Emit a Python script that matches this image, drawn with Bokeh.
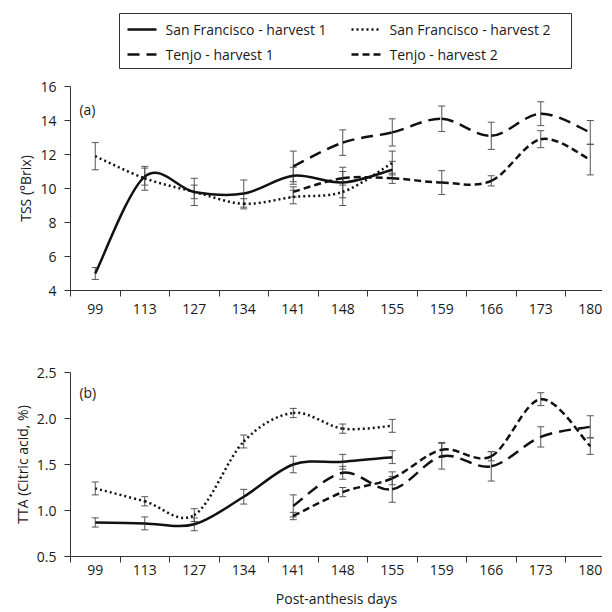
from bokeh.plotting import figure
from bokeh.models import (ColumnDataSource, Whisker, TeeHead, FixedTicker, Range1d,
                          PrintfTickFormatter)
from bokeh.core.properties import value
from bokeh.layouts import column
from bokeh.embed import file_html
from bokeh.resources import INLINE

# ---------------- data ----------------
days = ["99", "113", "127", "134", "141", "148", "155", "159", "166", "173", "180"]
sf_idx = [0, 1, 2, 3, 4, 5, 6]          # San Francisco sampling days (positions in days)
tj_idx = [4, 5, 6, 7, 8, 9, 10]         # Tenjo sampling days

# TSS (°Brix)
tss_sf1 = [5.0, 10.7, 9.8, 9.7, 10.75, 10.35, 11.1]
tss_sf1_err = [0.35, 0.5, 0.8, 0.8, 0.5, 0.9, 0.5]
tss_sf2 = [11.9, 10.6, 9.8, 9.1, 9.5, 9.8, 11.5]
tss_sf2_err = [0.8, 0.7, 0.4, 0.3, 0.4, 0.8, 0.7]
tss_tj1 = [11.3, 12.7, 13.3, 14.1, 13.1, 14.4, 13.3]
tss_tj1_err = [0.9, 0.75, 0.8, 0.75, 0.8, 0.7, 0.7]
tss_tj2 = [9.8, 10.6, 10.6, 10.35, 10.45, 12.9, 11.7]
tss_tj2_err = [0.3, 0.4, 0.3, 0.7, 0.3, 0.5, 0.9]

# TTA (Citric acid, %)
tta_sf1 = [0.87, 0.86, 0.85, 1.15, 1.5, 1.53, 1.58]
tta_sf1_err = [0.05, 0.07, 0.07, 0.08, 0.09, 0.08, 0.07]
tta_sf2 = [1.24, 1.1, 0.95, 1.75, 2.06, 1.89, 1.92]
tta_sf2_err = [0.07, 0.05, 0.07, 0.07, 0.05, 0.05, 0.07]
tta_tj1 = [1.05, 1.41, 1.23, 1.59, 1.48, 1.8, 1.91]
tta_tj1_err = [0.12, 0.07, 0.14, 0.14, 0.16, 0.11, 0.12]
tta_tj2 = [0.94, 1.2, 1.35, 1.66, 1.59, 2.21, 1.7]
tta_tj2_err = [0.04, 0.05, 0.07, 0.08, 0.05, 0.07, 0.09]

series_names = ["San Francisco - harvest 1", "San Francisco - harvest 2",
                "Tenjo - harvest 1", "Tenjo - harvest 2"]

# ---------------- style ----------------
FONT = "Open Sans"
LINE_C = "#111111"
ERR_C = "#555555"
AXIS_C = "#333333"
TEXT_C = "#1a1a1a"
styles = {
    series_names[0]: dict(line_dash="solid"),
    series_names[1]: dict(line_dash="2 3"),
    series_names[2]: dict(line_dash="12 7"),
    series_names[3]: dict(line_dash="7 4"),
}
LW = 2.5
FRAME_W = 532
LEFT_B = 70


def smooth_bezier(xs, ys):
    """Excel-style smoothed line: cubic Bezier segments through the data points."""
    n = len(xs)
    d = dict(x0=[], y0=[], x1=[], y1=[], cx0=[], cy0=[], cx1=[], cy1=[])
    for i in range(n - 1):
        a = i - 1 if i > 0 else i
        b = i + 2 if i + 2 < n else i + 1
        d["x0"].append(xs[i]); d["y0"].append(ys[i])
        d["x1"].append(xs[i + 1]); d["y1"].append(ys[i + 1])
        d["cx0"].append(xs[i] + (xs[i + 1] - xs[a]) / 6.0)
        d["cy0"].append(ys[i] + (ys[i + 1] - ys[a]) / 6.0)
        d["cx1"].append(xs[i + 1] - (xs[b] - xs[i]) / 6.0)
        d["cy1"].append(ys[i + 1] - (ys[b] - ys[i]) / 6.0)
    return d


def make_panel(frame_h, border_top, border_bottom, ymin, ymax, yticks, ylabel,
               panel_label, label_y, series, fmt, xlabel=None, x_standoff=7):
    p = figure(frame_width=FRAME_W, frame_height=frame_h,
               x_range=Range1d(-0.5, 10.247), y_range=Range1d(ymin, ymax),
               output_backend="svg", toolbar_location=None,
               min_border_left=LEFT_B, min_border_right=0,
               min_border_top=border_top, min_border_bottom=border_bottom)
    p.outline_line_color = None
    p.grid.visible = False

    xa = p.xaxis[0]
    xa.ticker = FixedTicker(ticks=list(range(len(days))),
                            minor_ticks=[i - 0.5 for i in range(len(days))])
    xa.major_label_overrides = {i: d for i, d in enumerate(days)}
    xa.major_tick_in = 0
    xa.major_tick_out = 0
    xa.minor_tick_in = 0
    xa.minor_tick_out = 6
    xa.minor_tick_line_color = AXIS_C
    xa.axis_line_color = AXIS_C
    xa.major_label_standoff = x_standoff
    xa.major_label_text_font = FONT
    xa.major_label_text_font_size = "14px"
    xa.major_label_text_color = TEXT_C
    if xlabel:
        xa.axis_label = xlabel
        xa.axis_label_standoff = 11
        xa.axis_label_text_font = FONT
        xa.axis_label_text_font_size = "14px"
        xa.axis_label_text_font_style = "normal"
        xa.axis_label_text_color = TEXT_C

    ya = p.yaxis[0]
    ya.ticker = FixedTicker(ticks=yticks)
    ya.minor_tick_line_color = None
    ya.major_tick_in = 0
    ya.major_tick_out = 6
    ya.major_tick_line_color = AXIS_C
    ya.axis_line_color = AXIS_C
    ya.formatter = PrintfTickFormatter(format=fmt)
    ya.major_label_standoff = 8
    ya.major_label_text_font = FONT
    ya.major_label_text_font_size = "14px"
    ya.major_label_text_color = TEXT_C
    ya.axis_label = ylabel
    ya.axis_label_standoff = 2
    ya.axis_label_text_font = FONT
    ya.axis_label_text_font_size = "14px"
    ya.axis_label_text_font_style = "normal"
    ya.axis_label_text_color = TEXT_C

    for name, idx, vals, errs in series:
        xs = list(idx)
        d = smooth_bezier(xs, vals)
        p.bezier(source=ColumnDataSource(d), x0="x0", y0="y0", x1="x1", y1="y1",
                 cx0="cx0", cy0="cy0", cx1="cx1", cy1="cy1",
                 line_color=LINE_C, line_width=LW, **styles[name])
        src = ColumnDataSource(dict(x=xs,
                                    upper=[v + e for v, e in zip(vals, errs)],
                                    lower=[v - e for v, e in zip(vals, errs)]))
        w = Whisker(source=src, base="x", upper="upper", lower="lower",
                    line_color=ERR_C, line_width=1,
                    upper_head=TeeHead(size=7, line_color=ERR_C, line_width=1),
                    lower_head=TeeHead(size=7, line_color=ERR_C, line_width=1))
        p.add_layout(w)

    p.text(x=[-0.32], y=[label_y], text=[panel_label], text_font_size="14px",
           text_baseline="middle", text_align="left", text_color=TEXT_C,
           text_font=value(FONT))
    return p


# ---------------- legend panel (pixel space, x from panel frame left, y from top) ----------------
LEG_H = 76
leg = figure(frame_width=FRAME_W, frame_height=LEG_H,
             x_range=Range1d(0, FRAME_W), y_range=Range1d(LEG_H, 0),
             output_backend="svg", toolbar_location=None,
             x_axis_type=None, y_axis_type=None,
             min_border_left=LEFT_B, min_border_right=0, min_border_top=0, min_border_bottom=0)
leg.outline_line_color = None
leg.grid.visible = False
leg.quad(left=[49], right=[501], top=[13], bottom=[68], fill_color=None,
         line_color="#333333", line_width=1)
slots = [(57, 29), (281, 29), (57, 54), (281, 54)]   # sample start x, row y
for name, (sx, sy) in zip(series_names, slots):
    leg.line(x=[sx, sx + 29], y=[sy, sy], line_color=LINE_C, line_width=LW, **styles[name])
    leg.text(x=[sx + 38], y=[sy], text=[name], text_font=value(FONT),
             text_font_size="14px", text_baseline="middle", text_align="left",
             text_color=TEXT_C)

top = make_panel(204, 10, 30, 4, 16, [4, 6, 8, 10, 12, 14, 16], "TSS (°Brix)", "(a)", 14.65,
                 [(series_names[0], sf_idx, tss_sf1, tss_sf1_err),
                  (series_names[1], sf_idx, tss_sf2, tss_sf2_err),
                  (series_names[2], tj_idx, tss_tj1, tss_tj1_err),
                  (series_names[3], tj_idx, tss_tj2, tss_tj2_err)], "%d")

bottom = make_panel(184, 52, 47, 0.5, 2.5, [0.5, 1.0, 1.5, 2.0, 2.5],
                    "TTA (Citric acid, %)", "(b)", 2.28,
                    [(series_names[0], sf_idx, tta_sf1, tta_sf1_err),
                     (series_names[1], sf_idx, tta_sf2, tta_sf2_err),
                     (series_names[2], tj_idx, tta_tj1, tta_tj1_err),
                     (series_names[3], tj_idx, tta_tj2, tta_tj2_err)], "%.1f",
                    xlabel="Post-anthesis days", x_standoff=2)

layout = column(leg, top, bottom, spacing=0)
open("out.html", "w").write(file_html(layout, INLINE))
